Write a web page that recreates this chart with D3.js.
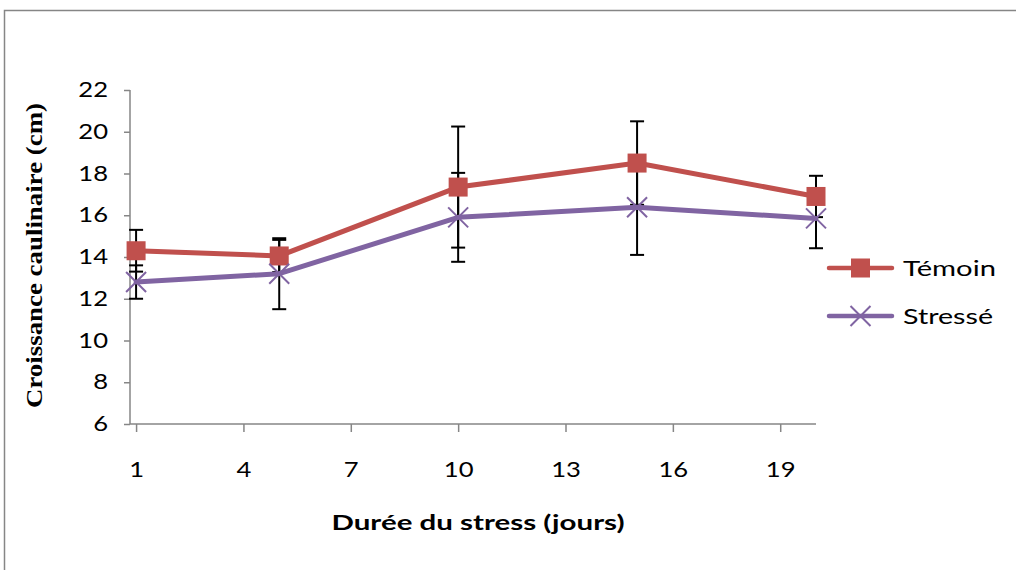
<!DOCTYPE html>
<html>
<head>
<meta charset="utf-8">
<script src="https://cdn.jsdelivr.net/npm/d3@7"></script>
<style>
  html, body { margin: 0; padding: 0; background: #fff; }
  svg { display: block; }
</style>
</head>
<body>
<svg id="chart" width="1016" height="570"></svg>
<script>
// Days of stress at which growth was measured
const days = [1, 5, 10, 15, 20];
// Shoot growth (cm), means and error half-widths
const temoin = [14.3, 14.05, 17.35, 18.5, 16.9];
const temoinErr = [1.0, 0.77, 2.9, 2.0, 0.99];
const stresse = [12.8, 13.2, 15.9, 16.38, 15.85];
const stresseErr = [0.8, 1.7, 2.13, 2.28, 1.43];
// Axis ticks
const xTicks = [1, 4, 7, 10, 13, 16, 19];
const yTicks = [6, 8, 10, 12, 14, 16, 18, 20, 22];
const seriesNames = ["Témoin", "Stressé"];

const red = "#C0504D", purple = "#8064A2", axisGray = "#868686";
const labelFont = "Lato, 'Open Sans', sans-serif";

const svg = d3.select("#chart");

// widen text horizontally by a factor, keeping its anchor
function widen(sel, k) {
  sel.each(function () {
    const w = this.getComputedTextLength();
    d3.select(this).attr("textLength", w * k).attr("lengthAdjust", "spacingAndGlyphs");
  });
}

// outer chart frame
svg.append("rect")
  .attr("x", 4.5).attr("y", 10.5)
  .attr("width", 1100).attr("height", 700)
  .attr("fill", "none").attr("stroke", axisGray).attr("stroke-width", 1.5);

const x = d3.scaleLinear().domain([0.83, 20]).range([130, 816]);
const y = d3.scaleLinear().domain([6, 22]).range([424, 90]);

// y axis
const yAxis = svg.append("g")
  .attr("transform", "translate(130,0)")
  .call(d3.axisLeft(y).tickValues(yTicks).tickSize(6).tickPadding(16).tickFormat(d3.format("d")));
yAxis.select(".domain").attr("stroke", axisGray).attr("stroke-width", 1.5)
  .attr("d", `M0,${y(22)}V${y(6)}`);
yAxis.selectAll(".tick line").attr("stroke", axisGray).attr("stroke-width", 1.5);
yAxis.selectAll(".tick text").attr("font-family", labelFont).attr("font-size", 21).attr("fill", "#000");
widen(yAxis.selectAll(".tick text"), 1.22);

// x axis
const xAxis = svg.append("g")
  .attr("transform", `translate(0,${y(6)})`)
  .call(d3.axisBottom(x).tickValues(xTicks).tickSize(8).tickPadding(30).tickFormat(d3.format("d")));
xAxis.select(".domain").attr("stroke", axisGray).attr("stroke-width", 1.5)
  .attr("d", `M${x(0.83)},0H${x(20)}`);
xAxis.selectAll(".tick line").attr("stroke", axisGray).attr("stroke-width", 1.5);
xAxis.selectAll(".tick text").attr("font-family", labelFont).attr("font-size", 21).attr("fill", "#000");
widen(xAxis.selectAll(".tick text"), 1.22);

// axis titles
const xTitle = svg.append("text")
  .attr("x", 478).attr("y", 530)
  .attr("text-anchor", "middle")
  .attr("font-family", labelFont).attr("font-weight", "bold").attr("font-size", 21)
  .text("Durée du stress (jours)");
xTitle.attr("textLength", 293).attr("lengthAdjust", "spacingAndGlyphs");

svg.append("text")
  .attr("transform", `translate(42,${255.5}) rotate(-90)`)
  .attr("text-anchor", "middle")
  .attr("font-family", "'Liberation Serif', 'Times New Roman', serif")
  .attr("font-weight", "bold").attr("font-size", 23)
  .attr("textLength", 305).attr("lengthAdjust", "spacingAndGlyphs")
  .text("Croissance caulinaire (cm)");

const series = [
  { name: seriesNames[0], values: temoin, err: temoinErr, color: red, marker: "square" },
  { name: seriesNames[1], values: stresse, err: stresseErr, color: purple, marker: "cross" }
];

// error bars
const capW = 7;
series.forEach(s => {
  const g = svg.append("g").attr("stroke", "#000").attr("stroke-width", 2).attr("fill", "none");
  days.forEach((d, i) => {
    const cx = x(d), top = y(s.values[i] + s.err[i]), bot = y(s.values[i] - s.err[i]);
    g.append("line").attr("x1", cx).attr("x2", cx).attr("y1", top).attr("y2", bot);
    g.append("line").attr("x1", cx - capW).attr("x2", cx + capW).attr("y1", top).attr("y2", top);
    g.append("line").attr("x1", cx - capW).attr("x2", cx + capW).attr("y1", bot).attr("y2", bot);
  });
});

function drawMarker(g, m, cx, cy, color) {
  if (m === "square") {
    const s = 19;
    g.append("rect").attr("x", cx - s / 2).attr("y", cy - s / 2)
      .attr("width", s).attr("height", s).attr("fill", color);
  } else {
    const h = 10;
    g.append("path")
      .attr("d", `M${cx - h},${cy - h}L${cx + h},${cy + h}M${cx - h},${cy + h}L${cx + h},${cy - h}`)
      .attr("stroke", color).attr("stroke-width", 2).attr("fill", "none");
  }
}

// series lines and markers
const line = d3.line().x((d, i) => x(days[i])).y(d => y(d));
series.forEach(s => {
  const g = svg.append("g");
  g.append("path").datum(s.values)
    .attr("d", line).attr("fill", "none")
    .attr("stroke", s.color).attr("stroke-width", 5).attr("stroke-linejoin", "round").attr("stroke-linecap", "round");
  days.forEach((d, i) => drawMarker(g, s.marker, x(d), y(s.values[i]), s.color));
});

// legend
const legendY = [268, 316];
const legendW = [93, 90];
series.forEach((s, i) => {
  const g = svg.append("g");
  const ly = legendY[i];
  g.append("line").attr("x1", 829).attr("x2", 892).attr("y1", ly).attr("y2", ly)
    .attr("stroke", s.color).attr("stroke-width", 4.5).attr("stroke-linecap", "round");
  drawMarker(g, s.marker, 860.5, ly, s.color);
  g.append("text").attr("x", 903).attr("y", ly + 8)
    .attr("font-family", labelFont).attr("font-size", 22).attr("fill", "#000")
    .attr("textLength", legendW[i]).attr("lengthAdjust", "spacingAndGlyphs")
    .text(s.name);
});
</script>
</body>
</html>
